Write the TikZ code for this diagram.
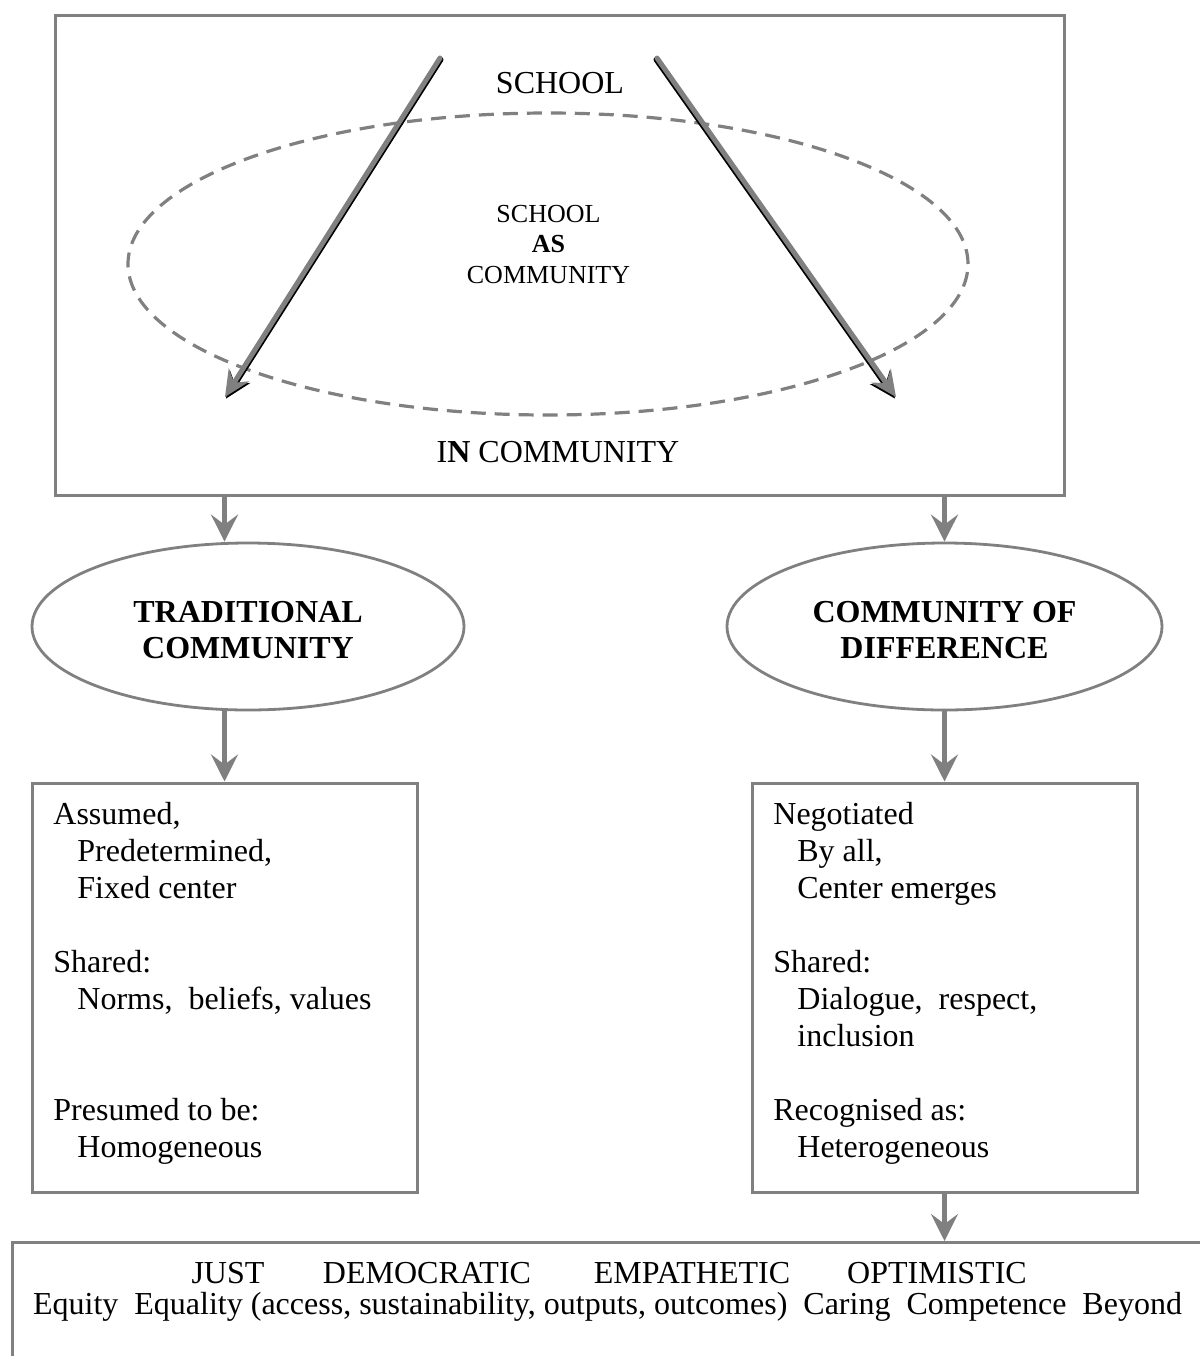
\documentclass[tikz,border=0pt]{standalone}
\usepackage{fontspec}
\setmainfont{Liberation Serif}
\usetikzlibrary{arrows.meta,shapes.geometric}
\definecolor{lg}{HTML}{808080}
\tikzset{
  frame/.style={draw=lg, line width=1.5pt, rectangle, inner sep=0pt},
  oval/.style={draw=lg, line width=1.4pt, ellipse, inner sep=0pt,
    minimum width=216pt, minimum height=83.5pt, align=center,
    font=\bfseries\fontsize{16pt}{18pt}\selectfont},
  dashoval/.style={draw=lg, line width=1.6pt, dash pattern=on 7.5pt off 4.5pt,
    ellipse, inner sep=0pt, minimum width=420pt, minimum height=151pt},
  flow/.style={draw=lg, line width=2.5pt, -{Stealth[length=13.5pt,width=13.5pt,inset=5pt]}},
  diag/.style={line width=2.5pt, line cap=round, -{Stealth[length=13pt,width=12pt,inset=4.5pt]}},
  body/.style={font=\fontsize{16pt}{18.5pt}\selectfont, align=left, inner sep=0pt, anchor=north west},
  big/.style={font=\fontsize{16pt}{18.5pt}\selectfont, inner sep=0pt},
  small/.style={font=\fontsize{13pt}{15.25pt}\selectfont, inner sep=0pt, align=center},
}
\begin{document}
\begin{tikzpicture}[x=0.5pt,y=-0.5pt]
\useasboundingbox (0,0) rectangle (1200,1356);
\begin{scope}
\clip (0,0) rectangle (1200,1356);
% top frame
\node[frame, minimum width=504.5pt, minimum height=240pt] (inbox) at (559.5,255) {};
\node[dashoval] (ascomm) at (548,264) {};
\node[big, anchor=base] (school) at (560,93) {SCHOOL};
\node[small] (asl) at (548.5,244.5) {SCHOOL\\\textbf{AS}\\COMMUNITY};
\node[big, anchor=base] (incomm) at (558,462) {I\textbf{N} COMMUNITY};
% diagonal arrows
\coordinate (sL) at (440,58);
\coordinate (tL) at (225,397);
\coordinate (sR) at (657,58);
\coordinate (tR) at (896,397);
\draw[diag, black] ([shift={(1,1.6)}]sL) -- ([shift={(1,1.6)}]tL);
\draw[diag, lg] (sL) -- (tL);
\draw[diag, black] ([shift={(-1,1.6)}]sR) -- ([shift={(-1,1.6)}]tR);
\draw[diag, lg] (sR) -- (tR);
% ellipses
\node[oval] (trad) at (248,626.5) {\rule{0pt}{14.6pt}TRADITIONAL\\COMMUNITY};
\node[oval, minimum width=217.5pt] (diff) at (944.5,626.5) {\rule{0pt}{14.6pt}COMMUNITY OF\\DIFFERENCE};
% boxes
\node[frame, minimum width=192.5pt, minimum height=204.5pt] (tradbox) at (224.5,987.5) {};
\node[frame, minimum width=192.5pt, minimum height=204.5pt] (diffbox) at (944.5,987.5) {};
\node[body] (tradtxt) at (53,802) {Assumed,\\
\hspace*{12pt}Predetermined,\\
\hspace*{12pt}Fixed center\\[18.5pt]
Shared:\\
\hspace*{12pt}Norms,\ \ beliefs, values\\[37pt]
Presumed to be:\\
\hspace*{12pt}Homogeneous};
\node[body] (difftxt) at (773,802) {Negotiated\\
\hspace*{12pt}By all,\\
\hspace*{12pt}Center emerges\\[18.5pt]
Shared:\\
\hspace*{12pt}Dialogue,\ \ respect,\\
\hspace*{12pt}inclusion\\[18.5pt]
Recognised as:\\
\hspace*{12pt}Heterogeneous};
% bottom box
\node[frame, anchor=north west, minimum width=620pt, minimum height=80pt] (goals) at (11,1241) {};
\node[big, anchor=base] (just) at (228,1283) {JUST};
\node[big, anchor=base] (demo) at (427,1283) {DEMOCRATIC};
\node[big, anchor=base] (emp) at (692,1283) {EMPATHETIC};
\node[big, anchor=base] (opt) at (937,1283) {OPTIMISTIC};
\node[big, anchor=base] (vals) at (607.5,1314) {Equity\ \ Equality (access, sustainability, outputs, outcomes)\ \ Caring\ \ Competence\ \ Beyond};
% vertical arrows
\draw[flow] (inbox.south -| tradbox.north) -- (trad.north -| tradbox.north);
\draw[flow] (inbox.south -| diffbox.north) -- (diff.north -| diffbox.north);
\draw[flow] (trad.south -| tradbox.north) -- (tradbox.north);
\draw[flow] (diff.south -| diffbox.north) -- (diffbox.north);
\draw[flow] (diffbox.south) -- (goals.north -| diffbox.south);
\end{scope}
\end{tikzpicture}
\end{document}
